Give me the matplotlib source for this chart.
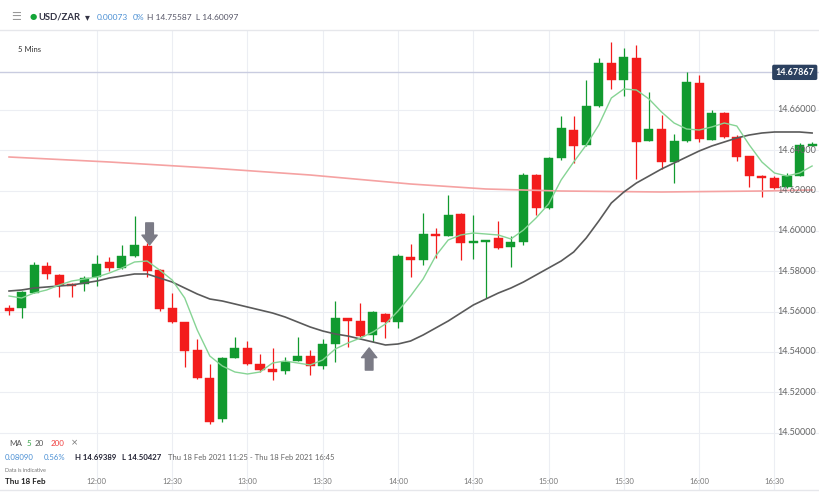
import numpy as np
import pandas as pd
import matplotlib
matplotlib.use("Agg")
import matplotlib.pyplot as plt

plt.rcParams['font.family'] = ['Lato', 'DejaVu Sans']

# USD/ZAR 5 minute candles, Thu 18 Feb 2021 11:25 - 16:45
times = pd.date_range("2021-02-18 11:25", "2021-02-18 16:45", freq="5min")

opens = [14.56179, 14.56179, 14.56923, 14.58262, 14.57816, 14.57370, 14.57370, 14.57717,
         14.58461, 14.58163, 14.58758, 14.59254, 14.58064, 14.56179, 14.55485, 14.54096,
         14.52707, 14.50674, 14.53699, 14.54195, 14.53402, 14.53154, 14.53054, 14.53550,
         14.53798, 14.53302, 14.54394, 14.55683, 14.55534, 14.54840, 14.55882, 14.55485,
         14.58709, 14.58560, 14.59850, 14.59750, 14.60842, 14.59403, 14.59453, 14.59651,
         14.59205, 14.59453, 14.62776, 14.61139, 14.63619, 14.65008, 14.64264, 14.66198,
         14.68331, 14.67488, 14.68579, 14.64462, 14.65058, 14.63421, 14.64462, 14.67339,
         14.64512, 14.65851, 14.64661, 14.63718, 14.62726, 14.62627, 14.62181, 14.62726,
         14.64214]
highs = [14.56328, 14.57022, 14.58461, 14.58461, 14.57866, 14.57419, 14.57766, 14.58808,
         14.58709, 14.59304, 14.60742, 14.59403, 14.58114, 14.56923, 14.55485, 14.54642,
         14.53402, 14.53749, 14.54741, 14.54542, 14.53898, 14.54195, 14.53749, 14.54741,
         14.54096, 14.54642, 14.56526, 14.55683, 14.56427, 14.56030, 14.55931, 14.58858,
         14.59354, 14.60891, 14.60147, 14.61784, 14.60891, 14.60792, 14.59552, 14.60494,
         14.59750, 14.62875, 14.62826, 14.63669, 14.65702, 14.65702, 14.67488, 14.68579,
         14.69389, 14.69075, 14.69224, 14.66893, 14.65752, 14.64810, 14.67885, 14.67736,
         14.66000, 14.65901, 14.64760, 14.63718, 14.62776, 14.62726, 14.62875, 14.64363,
         14.64413]
lows = [14.55832, 14.55683, 14.56923, 14.57618, 14.56725, 14.56725, 14.57022, 14.57270,
        14.58014, 14.58114, 14.58709, 14.57717, 14.56030, 14.55435, 14.53253, 14.52658,
        14.50427, 14.50525, 14.53699, 14.53352, 14.53005, 14.52608, 14.52906, 14.53550,
        14.52856, 14.53154, 14.53501, 14.54245, 14.54741, 14.54493, 14.54691, 14.55187,
        14.57717, 14.58312, 14.58659, 14.59750, 14.58560, 14.58610, 14.56675, 14.59106,
        14.58213, 14.59304, 14.60792, 14.61090, 14.63520, 14.63371, 14.64214, 14.66149,
        14.67042, 14.66694, 14.62578, 14.64462, 14.63074, 14.62379, 14.64413, 14.64413,
        14.64512, 14.64611, 14.63470, 14.62181, 14.61685, 14.62082, 14.62131, 14.62726,
        14.64214]
closes = [14.56030, 14.56973, 14.58312, 14.57866, 14.57320, 14.57270, 14.57667, 14.58362,
          14.58163, 14.58758, 14.59304, 14.58014, 14.56130, 14.55485, 14.54046, 14.52707,
          14.50525, 14.53699, 14.54195, 14.53402, 14.53104, 14.53005, 14.53501, 14.53798,
          14.53302, 14.54394, 14.55683, 14.55534, 14.54790, 14.55981, 14.55485, 14.58758,
          14.58560, 14.59850, 14.59750, 14.60792, 14.59403, 14.59502, 14.59552, 14.59155,
          14.59453, 14.62776, 14.61139, 14.63619, 14.65107, 14.64214, 14.66198, 14.68331,
          14.67488, 14.68629, 14.64413, 14.65058, 14.63421, 14.64462, 14.67389, 14.64562,
          14.65851, 14.64661, 14.63669, 14.62726, 14.62627, 14.62131, 14.62726, 14.64264,
          14.64314]

# moving averages
ma5 = [14.56774, 14.56675, 14.56923, 14.57072, 14.57320, 14.57518, 14.57618, 14.57717,
       14.57915, 14.58163, 14.58461, 14.58510, 14.58064, 14.57568, 14.56675, 14.55088,
       14.53798, 14.53302, 14.53005, 14.52906, 14.53005, 14.53451, 14.53550, 14.53451,
       14.53352, 14.53600, 14.54146, 14.54443, 14.54691, 14.54989, 14.55386, 14.56030,
       14.56774, 14.57618, 14.58758, 14.59552, 14.59800, 14.59899, 14.59850, 14.59800,
       14.59602, 14.60048, 14.60643, 14.61338, 14.62528, 14.63421, 14.64264, 14.65256,
       14.66595, 14.67042, 14.66992, 14.66546, 14.65901, 14.65355, 14.65058, 14.65008,
       14.65157, 14.65355, 14.65206, 14.64264, 14.63421, 14.62875, 14.62726, 14.62875,
       14.63222]
ma20 = [14.57022, 14.57072, 14.57171, 14.57221, 14.57270, 14.57320, 14.57419, 14.57518,
        14.57667, 14.57766, 14.57866, 14.57866, 14.57667, 14.57469, 14.57171, 14.56874,
        14.56626, 14.56526, 14.56378, 14.56229, 14.56080, 14.55931, 14.55733, 14.55485,
        14.55237, 14.55038, 14.54890, 14.54790, 14.54642, 14.54493, 14.54344, 14.54394,
        14.54542, 14.54840, 14.55187, 14.55534, 14.55931, 14.56328, 14.56626, 14.56923,
        14.57171, 14.57469, 14.57816, 14.58163, 14.58510, 14.58957, 14.59651, 14.60494,
        14.61387, 14.61933, 14.62379, 14.62726, 14.63074, 14.63371, 14.63669, 14.63966,
        14.64214, 14.64413, 14.64611, 14.64760, 14.64859, 14.64909, 14.64909, 14.64909,
        14.64859]
ma200_idx = [0, 8, 16, 24, 32, 38, 44, 52, 60, 64]
ma200 = [14.63669, 14.63421, 14.63123, 14.62776, 14.62330, 14.62082, 14.61982, 14.61933,
         14.61982, 14.62032]

price_ticks = [14.50, 14.52, 14.54, 14.56, 14.58, 14.60, 14.62, 14.64, 14.66]
last_price = 14.67867

green = '#119a2f'
red = '#f31c1c'
grid_c = '#eceef3'

fig = plt.figure(figsize=(8.2, 5), dpi=100)
ax = fig.add_axes([0, 0.02, 1, 0.92])
ax.set_xlim(-0.72, 64.63)
ax.set_ylim(14.47152, 14.69968)
for s in ax.spines.values():
    s.set_visible(False)
ax.set_xticks([])
ax.set_yticks([])

x = np.arange(len(times))

# grid (the first half hour slot is taken by the date label)
for p in price_ticks:
    ax.axhline(p, color=grid_c, lw=0.8, zorder=0)
tick_idx = [i for i, t in enumerate(times) if t.minute % 30 == 0 and i > 3]
for i in tick_idx:
    ax.axvline(i, color=grid_c, lw=0.8, zorder=0)
ax.axhline(last_price, color='#c9cce0', lw=1.0, zorder=1)

# candles
for i in x:
    o, h, l, c = opens[i], highs[i], lows[i], closes[i]
    col = green if c >= o else red
    ax.vlines(i, l, h, color=col, lw=0.9, zorder=2)
    lo, hi = min(o, c), max(o, c)
    if hi - lo < 0.0009:
        mid = (hi + lo) / 2
        lo, hi = mid - 0.00045, mid + 0.00045
    ax.bar(i, hi - lo, bottom=lo, width=0.72, color=col, edgecolor=col, lw=0.3, zorder=3)

# moving averages
ax.plot(ma200_idx, ma200, color='#f5a2a2', lw=1.2, zorder=4)
ax.plot(x, ma20, color='#5a5a5a', lw=1.2, zorder=4)
ax.plot(x, ma5, color='#86d494', lw=1.0, zorder=5)

# arrows
arrow_kw = dict(arrowstyle='simple,head_length=0.7,head_width=1.1,tail_width=0.55',
                color='#7b7b86', shrinkA=0, shrinkB=0)
ax.annotate('', xy=(11.2, 14.5931), xytext=(11.2, 14.6040), arrowprops=arrow_kw, zorder=6)
ax.annotate('', xy=(28.7, 14.5420), xytext=(28.7, 14.5310), arrowprops=arrow_kw, zorder=6)

# price labels on the right
ytr = ax.get_yaxis_transform()
for p in price_ticks:
    ax.text(0.948, p, f"{p:.5f}", transform=ytr, fontsize=6.5, color='#666666',
            va='center', ha='left', zorder=7)
ax.text(0.9455, last_price, f"{last_price:.5f}", transform=ytr, fontsize=6.5,
        color='white', fontweight='bold', va='center', ha='left', zorder=8,
        bbox=dict(boxstyle='round,pad=0.35,rounding_size=0.2', fc='#2c4160', ec='none'))

# time labels
xtr = ax.get_xaxis_transform()
for i in tick_idx:
    ax.text(i, 0.0174, times[i].strftime('%H:%M'), transform=xtr, fontsize=5.6,
            color='#777777', ha='center', va='center')


def ft(xp, yp, s, **kw):
    fig.text(xp / 820, 1 - yp / 500, s, va='center', **kw)


# header
ft(11, 17, '\u2630', fontsize=8, color='#999999', family=['DejaVu Sans'])
ft(30, 17, '\u25CF', fontsize=6, color='#13a538', family=['DejaVu Sans'])
ft(38, 17, 'USD/ZAR', fontsize=6.8, color='#333344', fontweight='bold')
ft(85, 17, '\u25BE', fontsize=7, color='#333344', family=['DejaVu Sans'])
ft(97, 17, '0.00073', fontsize=6.0, color='#4a8fd4')
ft(133, 17, '0%', fontsize=6.0, color='#4a8fd4')
ft(147, 17, 'H 14.75587  L 14.60097', fontsize=6.0, color='#555566')
fig.add_artist(plt.Line2D([0, 1], [1 - 30 / 500, 1 - 30 / 500], color='#e6e7eb', lw=1))
ft(18, 50, '5 Mins', fontsize=5.5, color='#333333')

# footer legend
ft(9, 443, 'MA', fontsize=5.8, color='#555555')
ft(27, 443, '5', fontsize=5.8, color='#3aa64c')
ft(35, 443, '20', fontsize=5.8, color='#555555')
ft(51, 443, '200', fontsize=5.8, color='#f04040')
ft(71, 443, '\u00d7', fontsize=6.2, color='#777777', family=['DejaVu Sans'])
ft(5, 458, '0.08090', fontsize=5.6, color='#4a8fd4')
ft(44, 458, '0.56%', fontsize=5.6, color='#4a8fd4')
ft(75, 458, 'H 14.69389', fontsize=5.6, color='#222233', fontweight='bold')
ft(122, 458, 'L 14.50427', fontsize=5.6, color='#222233', fontweight='bold')
ft(168, 458, 'Thu 18 Feb 2021 11:25 - Thu 18 Feb 2021 16:45', fontsize=5.5, color='#666666')
ft(5, 470, 'Data is indicative', fontsize=4.0, color='#777777')
ft(5, 482, 'Thu 18 Feb', fontsize=5.8, color='#222222', fontweight='bold')
fig.add_artist(plt.Line2D([0, 1], [10 / 500, 10 / 500], color='#e6e7eb', lw=1))

fig.savefig('out.png', dpi=100)
